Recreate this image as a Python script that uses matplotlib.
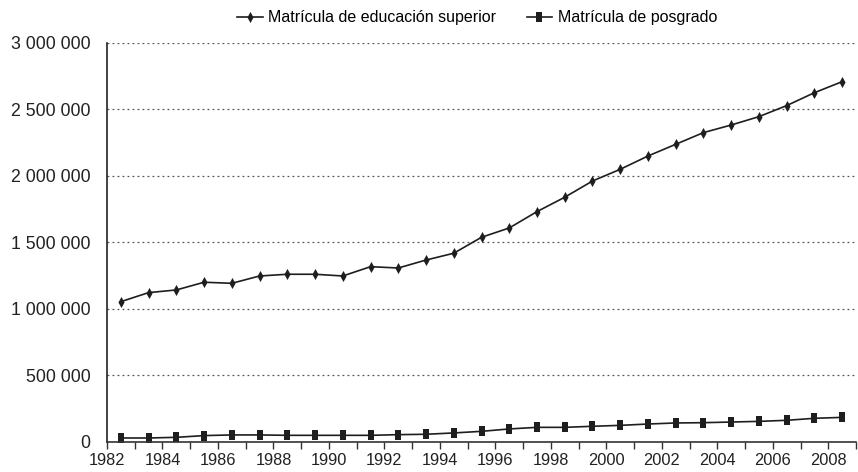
import numpy as np
import matplotlib.pyplot as plt
from matplotlib.ticker import FuncFormatter, MultipleLocator

# Años (ciclos escolares) y matrícula
years = list(range(1982, 2009))
superior = [1055000, 1123000, 1143000, 1201000, 1193000, 1248000, 1261000,
            1261000, 1248000, 1318000, 1308000, 1368000, 1419000, 1539000,
            1609000, 1732000, 1840000, 1962000, 2050000, 2150000, 2238000,
            2326000, 2383000, 2446000, 2529000, 2626000, 2709000]
posgrado = [30000, 30000, 35000, 48000, 53000, 53000, 50000, 50000, 50000,
            50000, 55000, 58000, 68000, 80000, 98000, 110000, 110000, 118000,
            125000, 135000, 143000, 145000, 150000, 155000, 163000, 178000,
            185000]
labels = ['Matrícula de educación superior', 'Matrícula de posgrado']

plt.rcParams['font.family'] = ['Liberation Sans', 'DejaVu Sans']

fig = plt.figure(figsize=(8.58, 4.72), dpi=100)
ax = fig.add_axes([0.1247, 0.0636, 0.873, 0.8454])

x = np.array(years) + 0.5  # puntos al centro de cada categoría
col = '#1e1e1e'
diamond = [(0, -1), (0.55, 0), (0, 1), (-0.55, 0), (0, -1)]
rect = [(-0.65, -1), (0.65, -1), (0.65, 1), (-0.65, 1), (-0.65, -1)]
ax.plot(x, superior, color=col, lw=1.2, marker=diamond, markersize=8,
        markeredgewidth=0, label=labels[0])
ax.plot(x, posgrado, color=col, lw=1.2, marker=rect, markersize=7.5,
        markeredgewidth=0, label=labels[1])

ax.set_xlim(1982, 2009)
ax.set_ylim(0, 3000000)
ax.yaxis.set_major_locator(MultipleLocator(500000))
ax.yaxis.set_major_formatter(FuncFormatter(lambda v, p: f'{int(v):,}'.replace(',', ' ')))
ax.set_xticks(range(1982, 2010))
ax.set_xticklabels([str(y) if y % 2 == 0 and y < 2009 else '' for y in range(1982, 2010)])
ax.tick_params(axis='x', length=5, width=1, color='#333333', labelsize=11.8, pad=3,
               labelcolor='#222222')
ax.tick_params(axis='y', length=0, labelsize=12.8, pad=12, labelcolor='#222222')

for v in range(500000, 3000001, 500000):
    ax.axhline(v, color='#555555', lw=0.9, ls=(0, (1.5, 2.5)), zorder=0)

for s in ['top', 'right']:
    ax.spines[s].set_visible(False)
ax.spines['left'].set_color('#222222')
ax.spines['bottom'].set_color('#333333')
ax.spines['left'].set_linewidth(1.2)
ax.spines['bottom'].set_linewidth(1.2)

fig.legend(loc='center', bbox_to_anchor=(0.556, 0.962), ncol=2, frameon=False,
           fontsize=11.5, handlelength=1.6, columnspacing=1.9, handletextpad=0.35,
           markerscale=1.0, borderpad=0)

fig.savefig('out.png', dpi=100)
